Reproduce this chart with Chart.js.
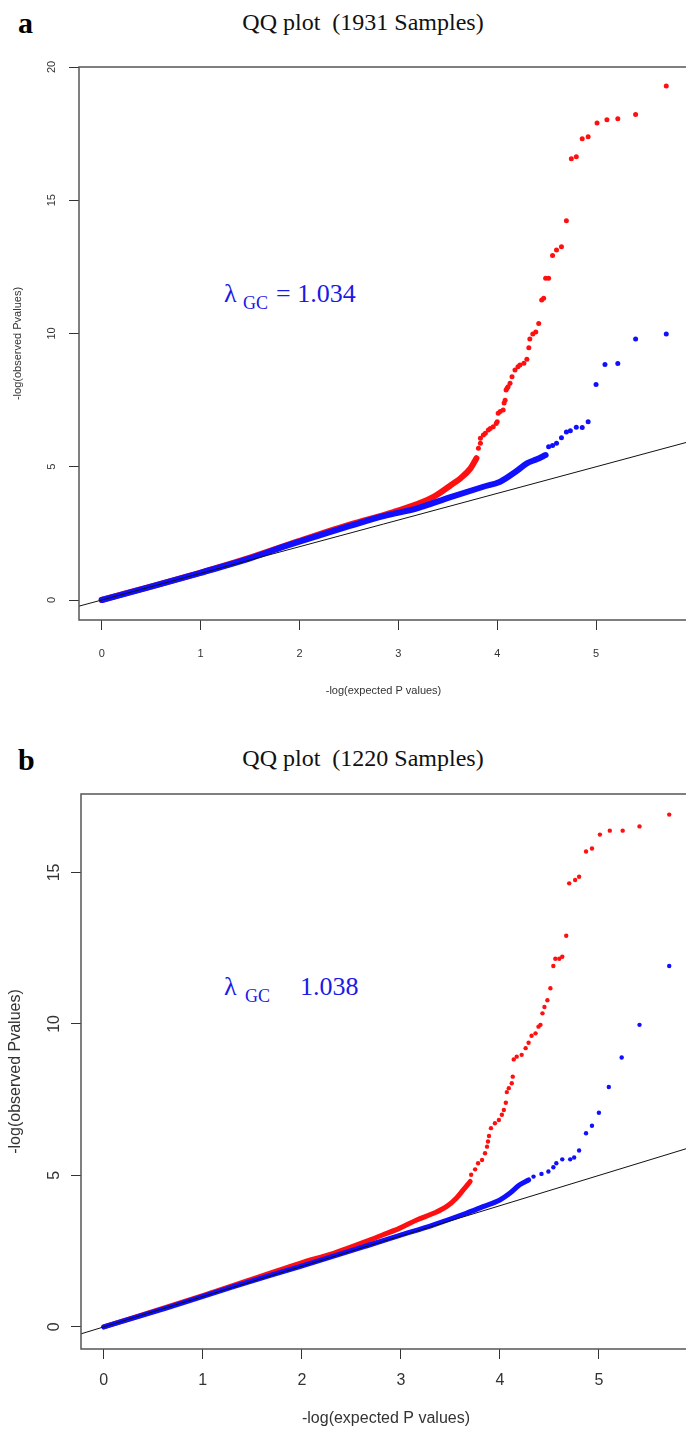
<!DOCTYPE html>
<html>
<head>
<meta charset="utf-8">
<script src="https://cdn.jsdelivr.net/npm/chart.js@4.4.0/dist/chart.umd.min.js"></script>
<style>
  html, body { margin: 0; padding: 0; background: #fff; }
  body { width: 686px; height: 1429px; overflow: hidden; position: relative; }
  canvas { position: absolute; left: 0; }
  .letter { position: absolute; font: bold 30px "Liberation Serif", "Times New Roman", serif; line-height: 1; color: #000; }
  .title { position: absolute; font: 24px "Liberation Serif", "Times New Roman", serif; line-height: 1; white-space: pre; transform: translateX(-50%); color: #111; }
  .lam { position: absolute; font-family: "Liberation Serif", "Times New Roman", serif; line-height: 1; white-space: pre; color: #1a1ae6; }
</style>
</head>
<body>
<div class="letter" style="left:18px; top:8px;">a</div>
<div class="title" style="left:363px; top:10px;">QQ plot  (1931 Samples)</div>
<div class="lam" style="left:224px; top:281px; font-size:26px;">λ</div>
<div class="lam" style="left:243px; top:294px; font-size:18px;">GC</div>
<div class="lam" style="left:276px; top:281px; font-size:26px;">= 1.034</div>
<canvas id="qqA" width="700" height="715" style="top:0px;"></canvas>

<div class="letter" style="left:18px; top:745px;">b</div>
<div class="title" style="left:363px; top:746px;">QQ plot  (1220 Samples)</div>
<div class="lam" style="left:224px; top:974px; font-size:26px;">λ</div>
<div class="lam" style="left:245px; top:987px; font-size:18px;">GC</div>
<div class="lam" style="left:300px; top:974px; font-size:26px;">1.038</div>
<canvas id="qqB" width="705" height="714" style="top:715px;"></canvas>

<script>
// axis ticks
const xTicks = [0, 1, 2, 3, 4, 5];
const yTicksA = [0, 5, 10, 15, 20];
const yTicksB = [0, 5, 10, 15];

// panel a (1931 samples): [expected, observed]
// the dense part of each curve is drawn as a thick band, the tail as dots
const blueBandA = [[0, 0], [0.5, 0.5], [1.0, 1.02], [1.5, 1.56], [1.84, 2.0], [2.18, 2.4], [2.51, 2.78],
  [2.85, 3.15], [3.19, 3.44], [3.52, 3.85], [3.86, 4.25], [4.03, 4.44], [4.2, 4.85], [4.3, 5.13],
  [4.4, 5.28], [4.49, 5.44]];
const blueDotsA = [[4.52, 5.75], [4.56, 5.8], [4.6, 5.88], [4.65, 6.09], [4.7, 6.3], [4.74, 6.35],
  [4.8, 6.48], [4.86, 6.47], [4.92, 6.69], [5.0, 8.09], [5.09, 8.84], [5.22, 8.87], [5.4, 9.79], [5.71, 9.98]];
const redBandA = [[0, 0], [1.0, 1.03], [1.5, 1.59], [2.0, 2.22], [2.5, 2.82], [2.95, 3.3], [3.19, 3.6],
  [3.36, 3.88], [3.52, 4.28], [3.63, 4.57], [3.73, 4.94], [3.79, 5.32]];
const redDotsA = [[3.81, 5.69], [3.83, 5.88], [3.83, 6.07], [3.86, 6.19], [3.88, 6.26], [3.91, 6.38],
  [3.93, 6.44], [3.96, 6.5], [3.99, 6.62], [4.0, 6.69], [4.01, 7.01], [4.03, 7.07], [4.06, 7.13],
  [4.07, 7.39], [4.08, 7.5], [4.09, 7.88], [4.1, 7.95], [4.11, 8.0], [4.13, 8.13], [4.15, 8.38],
  [4.18, 8.63], [4.21, 8.75], [4.23, 8.82], [4.27, 8.88], [4.3, 9.03], [4.32, 9.47], [4.33, 9.79],
  [4.36, 9.98], [4.39, 10.06], [4.42, 10.38], [4.45, 11.26], [4.47, 11.32], [4.49, 12.07], [4.52, 12.07],
  [4.56, 12.93], [4.6, 13.13], [4.65, 13.26], [4.7, 14.23], [4.75, 16.56], [4.8, 16.63], [4.86, 17.31],
  [4.92, 17.38], [5.01, 17.9], [5.11, 18.02], [5.22, 18.06], [5.4, 18.22], [5.71, 19.29]];

// panel b (1220 samples)
const blueBandB = [[0, 0], [0.63, 0.62], [1.31, 1.33], [1.98, 1.99], [2.65, 2.67], [2.99, 3.02],
  [3.33, 3.37], [3.66, 3.75], [3.83, 3.97], [4.0, 4.19], [4.1, 4.41], [4.2, 4.69], [4.29, 4.85]];
const blueDotsB = [[4.34, 4.96], [4.42, 5.05], [4.49, 5.13], [4.54, 5.27], [4.57, 5.4], [4.63, 5.53],
  [4.71, 5.53], [4.75, 5.59], [4.8, 5.82], [4.87, 6.39], [4.93, 6.64], [5.0, 7.07], [5.1, 7.92],
  [5.23, 8.89], [5.41, 9.97], [5.71, 11.91]];
const redBandB = [[0, 0], [1.0, 1.03], [1.98, 2.1], [2.32, 2.43], [2.65, 2.82], [2.82, 3.04], [2.99, 3.26],
  [3.16, 3.53], [3.33, 3.75], [3.46, 3.97], [3.56, 4.25], [3.63, 4.52], [3.7, 4.8]];
const redDotsB = [[3.71, 5.02], [3.75, 5.2], [3.78, 5.4], [3.82, 5.51], [3.85, 5.73], [3.87, 5.95],
  [3.88, 6.12], [3.89, 6.3], [3.91, 6.56], [3.95, 6.72], [3.99, 6.83], [4.02, 7.0], [4.04, 7.16],
  [4.06, 7.4], [4.07, 7.75], [4.09, 7.88], [4.12, 8.04], [4.13, 8.26], [4.14, 8.83], [4.17, 8.92],
  [4.22, 8.98], [4.26, 9.2], [4.29, 9.38], [4.32, 9.61], [4.36, 9.69], [4.39, 9.91], [4.41, 9.97],
  [4.43, 10.35], [4.45, 10.56], [4.48, 10.78], [4.51, 11.18], [4.54, 11.91], [4.56, 12.15], [4.6, 12.15],
  [4.63, 12.22], [4.67, 12.91], [4.7, 14.64], [4.76, 14.75], [4.8, 14.86], [4.87, 15.69], [4.93, 15.79],
  [5.01, 16.25], [5.11, 16.38], [5.24, 16.38], [5.41, 16.52], [5.71, 16.91]];

const RED = '#ff1010';
const BLUE = '#1010ff';
const SANS = '"Liberation Sans", Arial, sans-serif';

// box around the plot + R style rotated y tick labels
const rAxes = {
  id: 'rAxes',
  afterDraw(chart, args, o) {
    const { ctx, chartArea: a, scales: { y } } = chart;
    ctx.save();
    ctx.strokeStyle = '#555';
    ctx.lineWidth = 1.5;
    ctx.strokeRect(a.left, a.top, a.right - a.left, a.bottom - a.top);
    ctx.fillStyle = '#333';
    ctx.font = o.size + 'px ' + SANS;
    ctx.textAlign = 'center';
    ctx.textBaseline = 'middle';
    y.ticks.forEach(t => {
      ctx.save();
      ctx.translate(o.labelX, y.getPixelForValue(t.value));
      ctx.rotate(-Math.PI / 2);
      ctx.fillText(String(t.value), 0, 0);
      ctx.restore();
    });
    ctx.restore();
  }
};

function qqChart(id, s) {
  const pts = arr => arr.map(p => ({ x: p[0], y: p[1] }));
  const diag = [s.xMin, s.xMax].map(v => ({ x: v, y: v }));
  const grid = { display: true, drawOnChartArea: false, drawTicks: true, tickLength: 10, tickColor: '#333', tickWidth: 1 };
  return new Chart(document.getElementById(id), {
    type: 'scatter',
    data: {
      datasets: [
        { data: diag, showLine: true, borderColor: '#111', borderWidth: 1, pointRadius: 0, order: 0 },
        { data: pts(s.blueDots), backgroundColor: BLUE, pointRadius: s.r, borderWidth: 0, order: 1 },
        { data: pts(s.blueBand), showLine: true, borderColor: BLUE, borderWidth: s.band, borderCapStyle: 'round',
          pointRadius: 0, cubicInterpolationMode: 'monotone', order: 2 },
        { data: pts(s.redDots), backgroundColor: RED, pointRadius: s.r, borderWidth: 0, order: 3 },
        { data: pts(s.redBand), showLine: true, borderColor: RED, borderWidth: s.band, borderCapStyle: 'round',
          pointRadius: 0, cubicInterpolationMode: 'monotone', order: 4 }
      ]
    },
    options: {
      responsive: false,
      animation: false,
      devicePixelRatio: 1,
      layout: { padding: s.pad },
      plugins: {
        legend: { display: false },
        tooltip: { enabled: false },
        rAxes: { labelX: s.yLabelX, size: s.tick }
      },
      scales: {
        x: {
          type: 'linear', min: s.xMin, max: s.xMax,
          afterBuildTicks: sc => { sc.ticks = xTicks.map(v => ({ value: v })); },
          afterFit: sc => { sc.height = s.xH; },
          grid: grid,
          border: { display: false },
          ticks: { padding: s.xPad, color: '#333', maxRotation: 0, font: { family: SANS, size: s.tick } },
          title: { display: true, text: '-log(expected P values)', color: '#333',
            font: { family: SANS, size: s.lab }, padding: { top: 0, bottom: s.xTitlePad } }
        },
        y: {
          type: 'linear', min: s.yMin, max: s.yMax,
          afterBuildTicks: sc => { sc.ticks = s.yTicks.map(v => ({ value: v })); },
          afterFit: sc => { sc.width = s.yW; },
          grid: grid,
          border: { display: false },
          ticks: { color: 'rgba(0,0,0,0)', font: { family: SANS, size: s.tick } },
          title: { display: true, text: '-log(observed Pvalues)', color: '#333',
            font: { family: SANS, size: s.lab }, padding: { top: s.yTitlePad, bottom: 0 } }
        }
      }
    },
    plugins: [rAxes]
  });
}

// chart a
qqChart('qqA', {
  blueBand: blueBandA, blueDots: blueDotsA, redBand: redBandA, redDots: redDotsA, yTicks: yTicksA,
  xMin: -0.23, xMax: 5.93, yMin: -0.75, yMax: 20,
  pad: { top: 67, right: 12, bottom: 0, left: 0 },
  xH: 95, yW: 79, r: 2.5, band: 6,
  tick: 11, lab: 11, xPad: 17, xTitlePad: 17, yTitlePad: 11, yLabelX: 52
});

// chart b
qqChart('qqB', {
  blueBand: blueBandB, blueDots: blueDotsB, redBand: redBandB, redDots: redDotsB, yTicks: yTicksB,
  xMin: -0.23, xMax: 5.93, yMin: -0.73, yMax: 17.59,
  pad: { top: 79, right: 14, bottom: 0, left: 0 },
  xH: 80, yW: 81, r: 2.2, band: 5,
  tick: 16, lab: 16, xPad: 12, xTitlePad: 1, yTitlePad: 6, yLabelX: 55
});
</script>
</body>
</html>
